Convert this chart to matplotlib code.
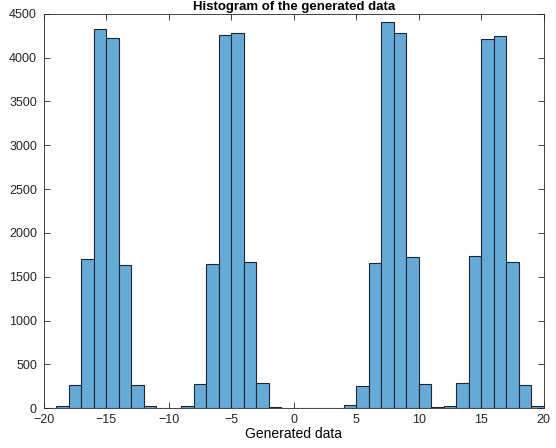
import matplotlib
matplotlib.use("Agg")
import matplotlib.pyplot as plt

plt.rcParams["font.family"] = ["Liberation Sans", "DejaVu Sans"]

# bin edges (width 1) and counts
bin_left = list(range(-20, 20))
counts = [
    0, 20, 260, 1700, 4330, 4230, 1630, 265, 20, 5,     # -20 .. -11
    0, 20, 270, 1645, 4260, 4285, 1670, 285, 8, 0,      # -10 .. -1
    0, 0, 0, 5, 30, 250, 1660, 4405, 4280, 1730,        # 0 .. 9
    280, 10, 20, 285, 1740, 4212, 4245, 1670, 260, 20,  # 10 .. 19
]

face = (0.4, 0.667, 0.843)
edge = (0.12, 0.15, 0.2)

fig = plt.figure(figsize=(5.56, 4.48), dpi=100)
ax = fig.add_axes([0.079, 0.089, 0.899, 0.88])

ax.bar(bin_left, counts, width=1, align="edge", color=face,
       edgecolor=edge, linewidth=0.8)

ax.set_xlim(-20, 20)
ax.set_ylim(0, 4500)
ax.set_xticks(range(-20, 21, 5))
ax.set_yticks(range(0, 4501, 500))
ax.tick_params(direction="in", top=True, right=True, labelsize=9,
               length=4, width=0.6, colors="#262626")
ax.tick_params(axis="x", pad=4)
ax.tick_params(axis="y", pad=5)
for s in ax.spines.values():
    s.set_color("#262626")
    s.set_linewidth(0.6)

ax.set_title("Histogram of the generated data", fontsize=9.5, fontweight="bold", pad=3)
ax.set_xlabel("Generated data", fontsize=10, labelpad=1)

fig.savefig("out.png", dpi=100)
